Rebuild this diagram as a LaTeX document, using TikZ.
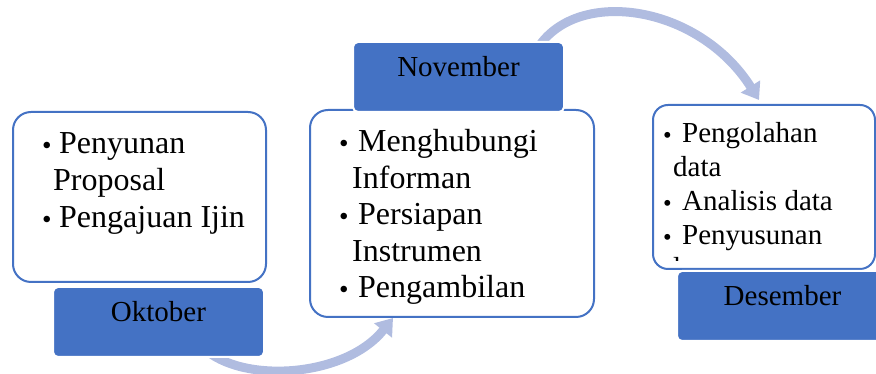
\documentclass[tikz,border=0pt]{standalone}
\usepackage{fontspec}
\setmainfont{Liberation Serif}
\usetikzlibrary{arrows.meta,backgrounds}

\definecolor{blau}{HTML}{4472C4}
\definecolor{hellblau}{HTML}{B0BCE0}

% Aufzählungspunkt und Einzug
\newcommand*\pkt[1][17pt]{\makebox[#1][l]{\raisebox{-1pt}{\scalebox{.85}{\textbullet}}}}
\newcommand*\ein[1][11pt]{\hspace*{#1}}

\begin{document}
\begin{tikzpicture}[x=1pt, y=1pt,
    kasten/.style={draw=blau, line width=2pt, fill=white, rounded corners=18pt},
    monat/.style={fill=blau, draw=white, line width=2pt, rounded corners=5pt,
        minimum width=211pt, minimum height=70pt, inner sep=0pt,
        text height=18pt, text depth=18pt, font=\fontsize{29}{34}\selectfont},
    zeile/.style={anchor=base west, inner sep=0pt},
    pfeil/.style={draw=hellblau, line width=9pt, -{Triangle[width=22pt,length=16pt]}}]

    \useasboundingbox (0,0) rectangle (876,374);

    % Kästen
    \node[kasten, minimum width=253pt, minimum height=170pt, anchor=south west] (b1) at (12,91) {};
    \node[kasten, minimum width=284pt, minimum height=207pt, anchor=south west] (b2) at (309,56) {};
    \node[kasten, rounded corners=15pt, minimum width=222pt, minimum height=164pt, anchor=south west] (b3) at (652,104) {};

    % Stichpunkte
    \foreach \txt [count=\i from 0] in {{\pkt Penyunan}, {\ein Proposal}, {\pkt Pengajuan Ijin}} {
        \node[zeile, font=\fontsize{32}{37}\selectfont] (za-\i) at (42, 220-37*\i) {\txt};
    }
    \foreach \txt [count=\i from 0] in {{\pkt[19pt]Menghubungi}, {\ein[13pt]Informan},
            {\pkt[19pt]Persiapan}, {\ein[13pt]Instrumen}, {\pkt[19pt]Pengambilan}} {
        \node[zeile, font=\fontsize{32}{37}\selectfont] (zb-\i) at (339, 222-36.5*\i) {\txt};
    }
    \begin{scope}
        \clip (654,113) rectangle (872,266);
        \foreach \txt [count=\i from 0] in {{\pkt[19pt]Pengolahan}, {\ein[10pt]data},
                {\pkt[19pt]Analisis data}, {\pkt[19pt]Penyusunan}, {\ein[10pt]laporan}} {
            \node[zeile, font=\fontsize{29}{34}\selectfont] (zc-\i) at (663, 231-33.7*\i) {\txt};
        }
    \end{scope}

    % Monate
    \node[monat, anchor=north west] (okt) at (52,88) {Oktober};
    \node[monat, anchor=south west] (nov) at (352,261) {November};
    \node[monat, anchor=north west] (des) at (676,104) {Desember};

    % Pfeile
    \begin{scope}[on background layer]
        \draw[pfeil] ([shift={(45pt,10pt)}]okt.south) .. controls +(38,-36) and +(-48,-60) .. ([xshift=84pt]b2.south west);
        \draw[pfeil] ([shift={(80pt,-6pt)}]nov.north) .. controls +(40,60) and +(-60,95) .. ([shift={(107pt,4pt)}]b3.north west);
    \end{scope}
\end{tikzpicture}
\end{document}
